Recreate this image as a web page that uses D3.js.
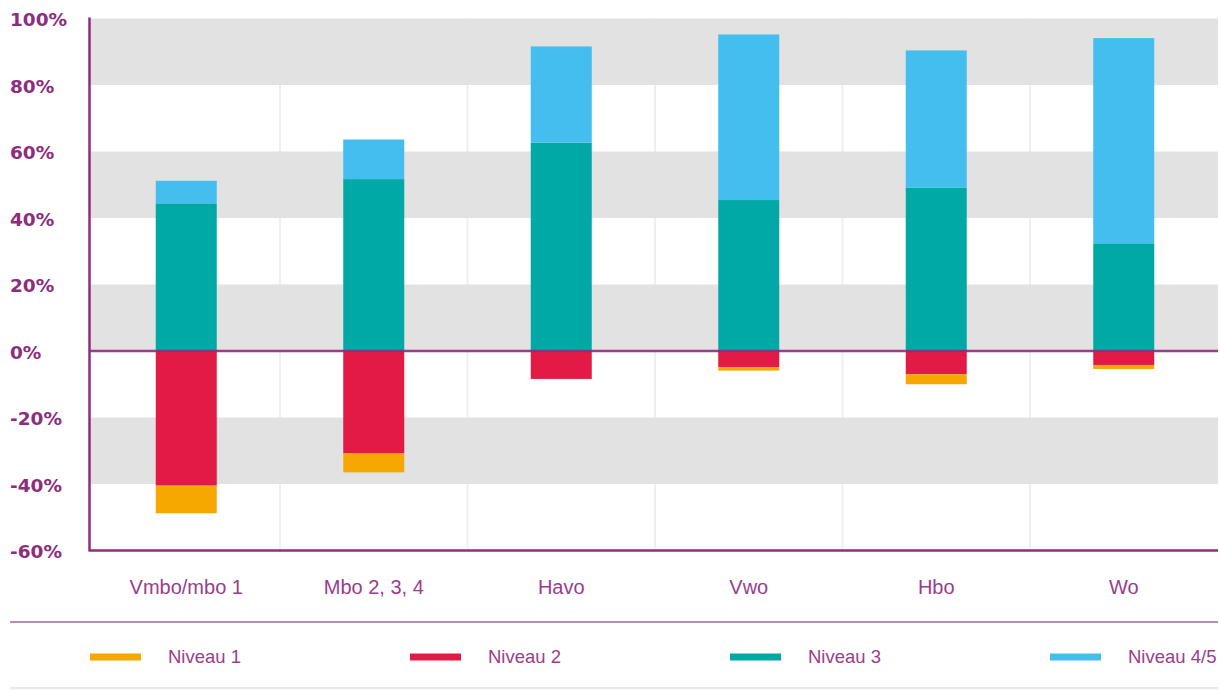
<!DOCTYPE html>
<html><head><meta charset="utf-8">
<script src="https://cdn.jsdelivr.net/npm/d3@7"></script>
<style>
html,body{margin:0;padding:0;background:#fff;}
svg{display:block;}
</style></head>
<body>
<svg id="chart" width="1220" height="690"></svg>
<script>
const categories = ["Vmbo/mbo 1","Mbo 2, 3, 4","Havo","Vwo","Hbo","Wo"];
const niveau1  = [-8.3, -5.7, 0, -1.0, -3.0, -1.2];
const niveau2  = [-40.5, -30.8, -8.4, -4.9, -7.0, -4.2];
const niveau3  = [44.4, 51.7, 62.7, 45.4, 49.1, 32.4];
const niveau45 = [6.8, 11.9, 28.9, 49.8, 41.3, 61.7];
const seriesNames = ["Niveau 1","Niveau 2","Niveau 3","Niveau 4/5"];
const tickValues = [100,80,60,40,20,0,-20,-40,-60];
const bandStarts = [80,40,0,-40];

(function(){
const colors = {"Niveau 1":"#F6A800","Niveau 2":"#E41A46","Niveau 3":"#00A9A6","Niveau 4/5":"#43BEEE"};
const purple = "#8E2C7E";

const rows = categories.map((c,i)=>({cat:c,"Niveau 1":niveau1[i],"Niveau 2":niveau2[i],"Niveau 3":niveau3[i],"Niveau 4/5":niveau45[i]}));

const svg = d3.select("#chart");
const pL = 89.5, pR = 1218, pT = 18.5, pB = 550.5;
const x = d3.scaleBand().domain(categories).range([92.5,1217.5]).padding(0);
const y = d3.scaleLinear().domain([-60,100]).range([pB, pT]);
const barW = 61;

// vertical gridlines
svg.append("g").selectAll("line").data(categories.slice(1)).join("line")
  .attr("x1",d=>x(d)).attr("x2",d=>x(d))
  .attr("y1",pT).attr("y2",pB)
  .attr("stroke","#efefef").attr("stroke-width",2);

// gray bands
svg.append("g").selectAll("rect").data(bandStarts).join("rect")
  .attr("x",pL).attr("width",pR-pL)
  .attr("y",d=>y(d+20)).attr("height",d=>y(d)-y(d+20))
  .attr("fill","#E2E2E2");

// stacked bars
const stack = d3.stack().keys(["Niveau 3","Niveau 4/5","Niveau 2","Niveau 1"]).offset(d3.stackOffsetDiverging);
const stacked = stack(rows);
svg.append("g").selectAll("g").data(stacked).join("g")
  .attr("fill",d=>colors[d.key])
  .selectAll("rect").data(d=>d).join("rect")
  .attr("x",d=>x(d.data.cat)+x.bandwidth()/2-barW/2)
  .attr("width",barW)
  .attr("y",d=>y(Math.max(d[0],d[1])))
  .attr("height",d=>Math.abs(y(d[0])-y(d[1])));

// zero line and axes lines
svg.append("line").attr("x1",pL).attr("x2",pR).attr("y1",y(0)).attr("y2",y(0))
  .attr("stroke",purple).attr("stroke-width",2.5).attr("opacity",0.9);
svg.append("line").attr("x1",pL).attr("x2",pL).attr("y1",pT-1).attr("y2",pB+1)
  .attr("stroke",purple).attr("stroke-width",2.5);
svg.append("line").attr("x1",pL).attr("x2",pR).attr("y1",pB).attr("y2",pB)
  .attr("stroke",purple).attr("stroke-width",2.5);

// y axis labels
const yAxis = svg.append("g").attr("transform","translate(10,1.5)")
  .call(d3.axisLeft(y).tickValues(tickValues).tickSize(0).tickFormat(d=>d+"%"));
yAxis.select(".domain").remove();
yAxis.selectAll("text").attr("x",0).attr("text-anchor","start")
  .attr("fill",purple).style("font-family","'DejaVu Sans',sans-serif")
  .style("font-weight","bold").style("font-size","18.5px");

// x axis labels
const xAxis = svg.append("g").attr("transform",`translate(0,${pB})`)
  .call(d3.axisBottom(x).tickSize(0));
xAxis.select(".domain").remove();
xAxis.selectAll("text").attr("y",36).attr("dy","0.35em")
  .attr("fill","#9a3d8c").style("font-family","'Liberation Sans',Arial,sans-serif")
  .style("font-size","20px");

// separator lines
svg.append("line").attr("x1",10).attr("x2",1218).attr("y1",622).attr("y2",622)
  .attr("stroke","#b98ab2").attr("stroke-width",2);
svg.append("line").attr("x1",10).attr("x2",1218).attr("y1",688).attr("y2",688)
  .attr("stroke","#eee2eb").attr("stroke-width",2);

// legend
const legendX = d3.scalePoint().domain(seriesNames).range([90,1050]);
const lg = svg.append("g").selectAll("g").data(seriesNames).join("g")
  .attr("transform",d=>`translate(${legendX(d)},657)`);
lg.append("rect").attr("x",0).attr("y",-3.5).attr("width",51).attr("height",7)
  .attr("fill",d=>colors[d]);
lg.append("text").attr("x",78).attr("dy","0.35em").text(d=>d)
  .attr("fill","#9a3d8c").style("font-family","'Liberation Sans',Arial,sans-serif")
  .style("font-size","18.5px");
})();
</script>
</body></html>
